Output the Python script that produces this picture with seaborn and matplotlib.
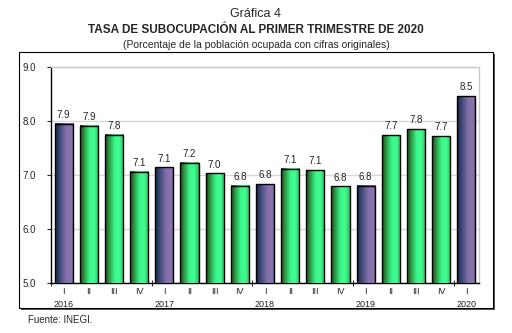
import numpy as np
import pandas as pd
import matplotlib
matplotlib.use("Agg")
import matplotlib.pyplot as plt
import seaborn as sns
from matplotlib.colors import LinearSegmentedColormap
from matplotlib.patches import Rectangle

# ---- data ----
quarters = ["I", "II", "III", "IV", "I", "II", "III", "IV", "I", "II", "III", "IV",
            "I", "II", "III", "IV", "I"]
years = ["2016", "", "", "", "2017", "", "", "", "2018", "", "", "",
         "2019", "", "", "", "2020"]
values = [7.95, 7.91, 7.75, 7.06, 7.14, 7.23, 7.03, 6.80, 6.83, 7.12, 7.09, 6.79,
          6.80, 7.74, 7.85, 7.72, 8.46]
value_labels = ["7.9", "7.9", "7.8", "7.1", "7.1", "7.2", "7.0", "6.8", "6.8", "7.1",
                "7.1", "6.8", "6.8", "7.7", "7.8", "7.7", "8.5"]
yticks = [5.0, 6.0, 7.0, 8.0, 9.0]

df = pd.DataFrame({
    "idx": [str(i) for i in range(len(values))],
    "value": values,
    "kind": ["first" if q == "I" else "other" for q in quarters],
})

sns.set_style("white")
plt.rcParams["font.family"] = ["Liberation Sans", "DejaVu Sans"]

fig = plt.figure(figsize=(5.12, 3.33), dpi=100)

# outer frame with shadow (drawn beneath the axes)
fig.patches.append(Rectangle((21/512, 1-310/333), (495-21)/512, (310-54)/333,
                             transform=fig.transFigure, facecolor="#555555",
                             edgecolor="none", zorder=-2))
fig.patches.append(Rectangle((19/512, 1-308/333), (493-19)/512, (308-52)/333,
                             transform=fig.transFigure, facecolor="white",
                             edgecolor="black", lw=0.8, zorder=-1))

ax = fig.add_axes([51/512, 1-283/333, (479-51)/512, (283-67)/333])
ax.set_zorder(2)
ax.patch.set_alpha(0)

sns.barplot(data=df, x="idx", y="value", hue="kind",
            palette={"first": "#8570aa", "other": "#3cf58a"},
            dodge=False, width=0.72, legend=False, ax=ax, zorder=3)

ax.set_ylim(5.0, 9.0)
ax.set_xlim(-0.5, len(values) - 0.5)
ax.set_yticks(yticks)
ax.set_yticklabels([f"{t:.1f}" for t in yticks], fontsize=7)
ax.yaxis.grid(True, color="#d8d8d8", lw=1.0, zorder=0)
ax.set_axisbelow(True)

green_cmap = LinearSegmentedColormap.from_list(
    "g", [(0, "#1a4a1a"), (0.18, "#2a8a3a"), (0.5, "#3cf58a"), (0.75, "#42ff92"), (1.0, "#2fb860")])
purple_cmap = LinearSegmentedColormap.from_list(
    "p", [(0, "#1a2445"), (0.25, "#3e4a78"), (0.6, "#8570aa"), (0.85, "#8a74b0"), (1.0, "#6d5f94")])
grad = np.linspace(0, 1, 64).reshape(1, -1)

bars = sorted([p for p in ax.patches if p.get_height() > 0], key=lambda p: p.get_x())
for i, p in enumerate(bars):
    x0, w = p.get_x(), p.get_width()
    y0, h = p.get_y(), p.get_height()
    cmap = purple_cmap if quarters[i] == "I" else green_cmap
    ax.imshow(grad, cmap=cmap, aspect="auto",
              extent=[x0, x0 + w, y0, y0 + h], zorder=3, interpolation="bilinear")
    p.set_facecolor("none")
    p.set_edgecolor("black")
    p.set_linewidth(1.0)
    p.set_zorder(4)
    ax.text(x0 + w/2, y0 + h + 0.07, value_labels[i], ha="center", va="bottom",
            fontsize=7, color="#222222", zorder=5)

ax.set_xlim(-0.5, len(values) - 0.5)
ax.set_ylim(5.0, 9.0)
ax.set_aspect("auto")
ax.set_xticks(range(len(values)))
ax.set_xticklabels([f"{q}\n{y}" if y else q for q, y in zip(quarters, years)],
                   fontsize=6.5, linespacing=1.6, color="#222222")
ax.tick_params(axis="x", length=0, pad=3)
ax.tick_params(axis="y", length=3, left=True, width=0.8, pad=8)
ax.set_xticks([-0.5, 3.5, 7.5, 11.5, 15.5], minor=True)
ax.tick_params(axis="x", which="minor", length=4, direction="inout", bottom=True, width=0.8)
for lab in ax.get_xticklabels():
    lab.set_va("top")
ax.set_xlabel("")
ax.set_ylabel("")

for s in ["left", "bottom"]:
    ax.spines[s].set_color("black")
    ax.spines[s].set_linewidth(1.0)
for s in ["top", "right"]:
    ax.spines[s].set_color("#c8c8c8")
    ax.spines[s].set_linewidth(1.0)

fig.text(0.5, 1-14/333, "Gráfica 4", ha="center", va="center", fontsize=9)
fig.text(0.5, 1-30/333, "TASA DE SUBOCUPACIÓN AL PRIMER TRIMESTRE DE 2020",
         ha="center", va="center", fontsize=8.5, fontweight="bold")
fig.text(0.5, 1-45/333, "(Porcentaje de la población ocupada con cifras originales)",
         ha="center", va="center", fontsize=7.5)
fig.text(28/512, 1-320/333, "Fuente: INEGI.", ha="left", va="center", fontsize=7)

fig.savefig("out.png", dpi=100)
